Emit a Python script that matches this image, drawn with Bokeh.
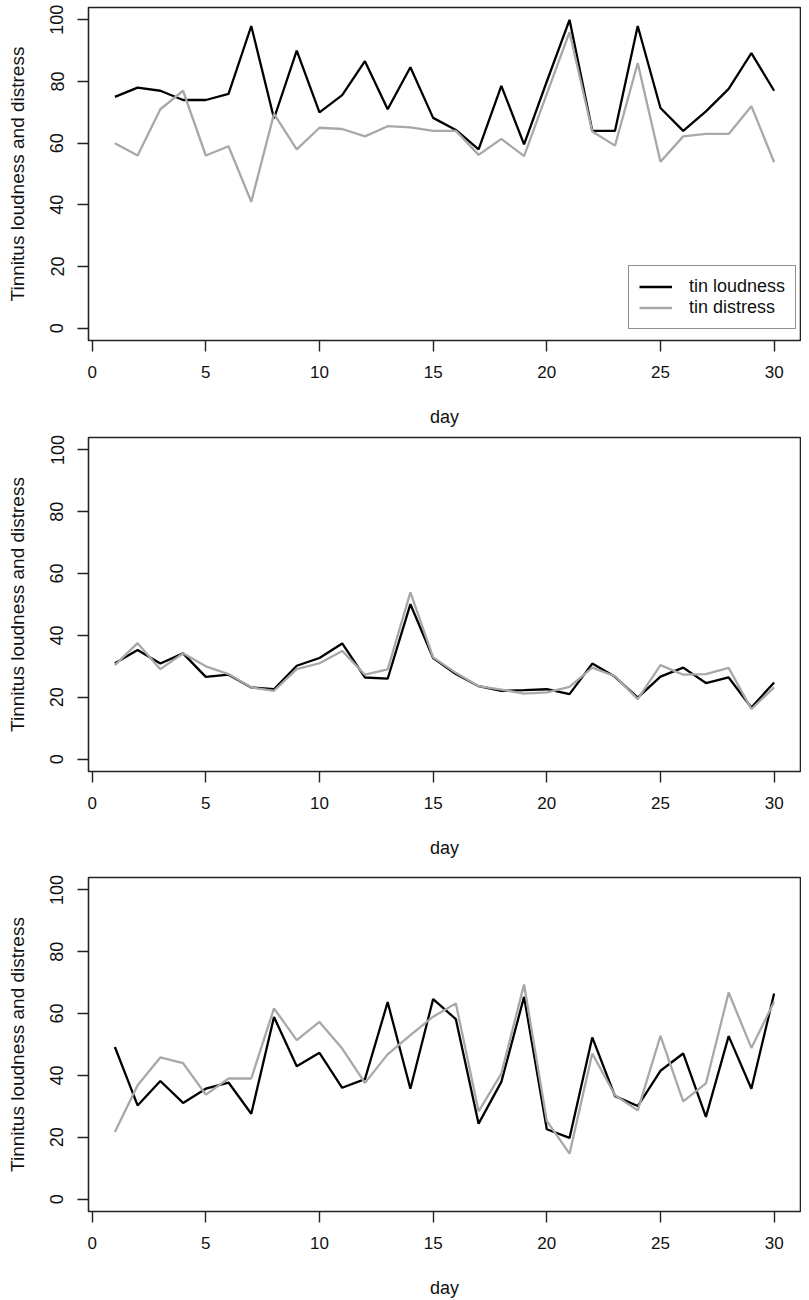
from bokeh.plotting import figure
from bokeh.models import Range1d, Legend, LegendItem, FixedTicker
from bokeh.layouts import column
from bokeh.embed import file_html
from bokeh.resources import INLINE

days = list(range(1, 31))

p1_loudness = [75, 78, 77, 74, 74, 76, 98, 68, 90, 70, 75.6, 86.6, 71, 84.6, 68.2,
               64.3, 58, 78.6, 59.6, 80, 100, 64, 64, 98, 71.4, 64, 70.3, 77.6, 89.2, 77]
p1_distress = [60, 56, 71, 77, 56, 59, 41, 69.5, 58, 65, 64.6, 62.2, 65.5, 65.1, 64,
               64, 56.2, 61.4, 55.8, 76, 96, 63.8, 59.2, 86, 54, 62.2, 63, 63, 72, 53.8]

p2_loudness = [31, 35.3, 30.9, 34.2, 26.6, 27.3, 23.2, 22.6, 30.2, 32.7, 37.4, 26.4, 26, 50.1, 32.7,
               27.5, 23.6, 22.1, 22.3, 22.6, 21, 30.9, 26.6, 19.9, 26.7, 29.6, 24.6, 26.4, 16.7, 24.8]
p2_distress = [30.4, 37.5, 29.1, 34.2, 30, 27.5, 23.2, 22.1, 29.1, 31, 35, 27.3, 29, 53.9, 32.9,
               27.9, 23.6, 22.5, 21.2, 21.6, 23.4, 29.6, 26.8, 19.4, 30.4, 27.3, 27.5, 29.5, 16.2, 23.2]

p3_loudness = [49.2, 30.3, 38.2, 31.1, 35.7, 37.7, 27.6, 58.9, 43, 47.3, 36, 38.8, 63.7, 35.7, 64.7,
               58.2, 24.4, 37.9, 65.4, 22.6, 19.8, 52.3, 33.3, 30.1, 41.5, 47.1, 26.6, 52.7, 35.7, 66.5]
p3_distress = [21.7, 36.8, 45.8, 44, 33.8, 39, 39, 61.7, 51.4, 57.3, 48.7, 37.6, 46.8, 53, 59,
               63.3, 28.4, 40.6, 69.4, 25.3, 14.7, 47.1, 33.6, 28.7, 52.8, 31.6, 37.4, 66.8, 48.9, 63.8]

x_ticks = [0, 5, 10, 15, 20, 25, 30]
y_ticks = [0, 20, 40, 60, 80, 100]
x_label = "day"
y_label = "Tinnitus loudness and distress"
series_names = ["tin loudness", "tin distress"]

FONT = "Liberation Sans"
BLACK = "#000000"
GREY = "#a8a8a8"


def make_panel(loud, dist, height, top, bottom, with_legend=False):
    p = figure(width=801, height=height,
               x_range=Range1d(-0.16, 31.16), y_range=Range1d(-4, 104),
               x_axis_label=x_label, y_axis_label=y_label,
               output_backend="svg", toolbar_location=None,
               min_border_left=88, min_border_right=1,
               min_border_top=top, min_border_bottom=bottom)
    p.grid.visible = False
    p.outline_line_color = "#222222"
    p.outline_line_width = 1.6
    p.background_fill_color = "white"
    p.border_fill_color = "white"

    r_loud = p.line(days, loud, line_color=BLACK, line_width=2.3)
    r_dist = p.line(days, dist, line_color=GREY, line_width=2.3)

    p.xaxis.ticker = FixedTicker(ticks=x_ticks)
    p.yaxis.ticker = FixedTicker(ticks=y_ticks)
    p.axis.axis_line_color = None
    p.axis.major_tick_in = 0
    p.axis.major_tick_out = 11
    p.axis.major_tick_line_color = "#222222"
    p.axis.major_tick_line_width = 1.4
    p.axis.minor_tick_line_color = None
    p.axis.major_label_text_font = FONT
    p.axis.major_label_text_color = "#111111"
    p.axis.axis_label_text_font = FONT
    p.axis.axis_label_text_font_style = "normal"
    p.axis.axis_label_text_color = "#111111"

    p.xaxis.major_label_text_font_size = "17px"
    p.xaxis.axis_label_text_font_size = "18px"
    p.xaxis.major_label_standoff = 14
    p.xaxis.axis_label_standoff = 26

    p.yaxis.major_label_text_font_size = "18px"
    p.yaxis.axis_label_text_font_size = "19px"
    p.yaxis.major_label_orientation = "vertical"
    p.yaxis.major_label_standoff = 14
    p.yaxis.axis_label_standoff = 20

    if with_legend:
        legend = Legend(items=[LegendItem(label=series_names[0], renderers=[r_loud]),
                               LegendItem(label=series_names[1], renderers=[r_dist])],
                        location=(540, 11))
        legend.label_text_font = FONT
        legend.label_text_font_size = "18px"
        legend.label_text_color = "#111111"
        legend.border_line_color = "#222222"
        legend.border_line_width = 1.4
        legend.padding = 10
        legend.spacing = 0
        legend.label_height = 19
        legend.glyph_height = 19
        legend.glyph_width = 33
        legend.label_standoff = 17
        legend.margin = 0
        legend.background_fill_alpha = 1.0
        p.add_layout(legend)
    return p


f1 = make_panel(p1_loudness, p1_distress, 434, 7, 94, with_legend=True)
f2 = make_panel(p2_loudness, p2_distress, 434, 3, 97)
f3 = make_panel(p3_loudness, p3_distress, 432, 9, 89)

layout = column(f1, f2, f3, spacing=0)

open("out.html", "w").write(file_html(layout, INLINE))
